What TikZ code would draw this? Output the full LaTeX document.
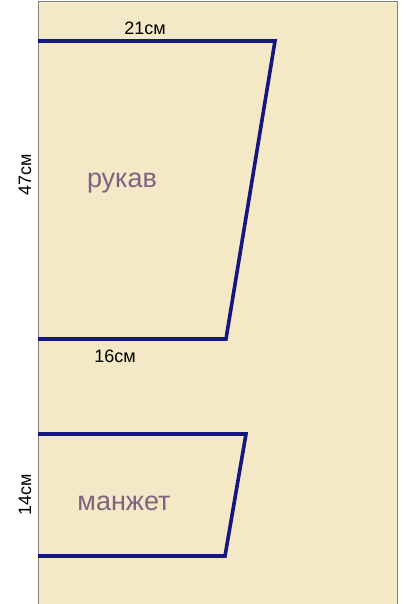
\documentclass[tikz,border=0pt]{standalone}
\usepackage{fontspec}
\setmainfont{Liberation Sans}
\definecolor{papel}{RGB}{243,233,198}
\definecolor{borde}{RGB}{130,130,125}
\definecolor{linea}{RGB}{22,22,128}
\definecolor{rotulo}{RGB}{128,98,128}
\tikzset{
  patron/.style={line width=3.6pt, linea, line join=miter},
  medida/.style={font=\fontsize{18}{20}\selectfont, inner sep=0pt},
  pieza/.style={font=\fontsize{27}{30}\selectfont, text=rotulo, inner sep=0pt}
}
\begin{document}
\begin{tikzpicture}[x=1pt,y=1pt]
    \useasboundingbox (0,0) rectangle (418,604);
    % Papel
    \draw[borde, fill=papel, line width=1pt] (38,-5) -- (38,602) -- (397,602) -- (397,-5);
    % Rukav
    \coordinate (r1) at (38,563);
    \coordinate (r2) at (275,563);
    \coordinate (r3) at (226,265);
    \coordinate (r4) at (38,265);
    \draw[patron] (r1) -- (r2) -- (r3) -- (r4);
    % Manzhet
    \coordinate (m1) at (38,170);
    \coordinate (m2) at (246,170);
    \coordinate (m3) at (225,48);
    \coordinate (m4) at (38,48);
    \draw[patron] (m1) -- (m2) -- (m3) -- (m4);
    % Medidas
    \node[medida] (arriba) at (145,576) {21см};
    \node[medida] (abajo) at (115,248) {16см};
    \node[medida, rotate=90] (largo) at (25,429) {47см};
    \node[medida, rotate=90] (ancho) at (25,109) {14см};
    % Nombres
    \node[pieza] (rukav) at (122,421) {рукав};
    \node[pieza] (manzhet) at (124,101) {манжет};
\end{tikzpicture}
\end{document}
